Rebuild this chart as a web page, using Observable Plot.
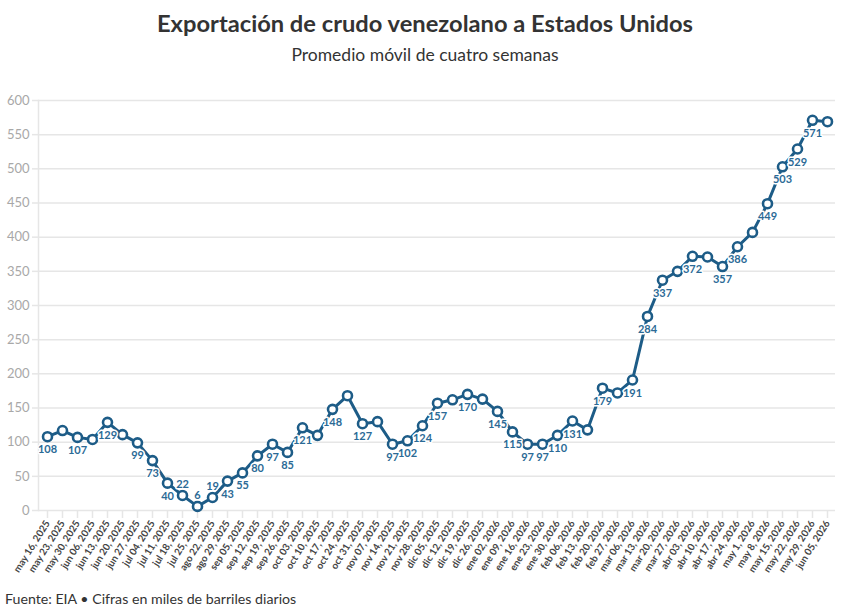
<!DOCTYPE html>
<html>
<head>
<meta charset="utf-8">
<script src="https://cdn.jsdelivr.net/npm/d3@7"></script>
<script src="https://cdn.jsdelivr.net/npm/@observablehq/plot@0.6"></script>
<style>
  body { margin: 0; background: #fff; font-family: Lato, "Noto Sans", sans-serif; }
  #wrap { width: 850px; position: relative; }
  .title { text-align: center; font-weight: 700; font-size: 23.7px; color: #333; margin: 0; padding-top: 8px; line-height: 30px; }
  .subtitle { text-align: center; font-size: 17.5px; color: #333; margin-top: 7px; line-height: 20px; }
  #chart { height: 525px; }
  .caption { font-size: 14.2px; color: #333; padding-left: 5px; line-height: 18px; }
</style>
</head>
<body>
<div id="wrap">
  <div class="title">Exportación de crudo venezolano a Estados Unidos</div>
  <div class="subtitle">Promedio móvil de cuatro semanas</div>
  <div id="chart"></div>
  <div class="caption">Fuente: EIA • Cifras en miles de barriles diarios</div>
</div>
<script>
// Weekly reporting dates (tick labels)
const weeks = [
  "may 16, 2025", "may 23, 2025", "may 30, 2025", "jun 06, 2025", "jun 13, 2025",
  "jun 20, 2025", "jun 27, 2025", "jul 04, 2025", "jul 11, 2025", "jul 18, 2025",
  "jul 25, 2025", "ago 22, 2025", "ago 29, 2025", "sep 05, 2025", "sep 12, 2025",
  "sep 19, 2025", "sep 26, 2025", "oct 03, 2025", "oct 10, 2025", "oct 17, 2025",
  "oct 24, 2025", "oct 31, 2025", "nov 07, 2025", "nov 14, 2025", "nov 21, 2025",
  "nov 28, 2025", "dic 05, 2025", "dic 12, 2025", "dic 19, 2025", "dic 26, 2025",
  "ene 02, 2026", "ene 09, 2026", "ene 16, 2026", "ene 23, 2026", "ene 30, 2026",
  "feb 06, 2026", "feb 13, 2026", "feb 20, 2026", "feb 27, 2026", "mar 06, 2026",
  "mar 13, 2026", "mar 20, 2026", "mar 27, 2026", "abr 03, 2026", "abr 10, 2026",
  "abr 17, 2026", "abr 24, 2026", "may 1, 2026", "may 8, 2026", "may 15, 2026",
  "may 22, 2026", "may 29, 2026", "jun 05, 2026"
];

// Four-week moving average, thousand barrels per day
const barrels = [
  108, 117, 107, 104, 129,
  111, 99, 73, 40, 22,
  6, 19, 43, 55, 80,
  97, 85, 121, 110, 148,
  168, 127, 130, 97, 102,
  124, 157, 162, 170, 163,
  145, 115, 97, 97, 110,
  131, 118, 179, 172, 191,
  284, 337, 350, 372, 371,
  357, 386, 407, 449, 503,
  529, 571, 569
];

// Which weeks carry a value label
const labeled = [
  1, 0, 1, 0, 1,
  0, 1, 1, 1, 1,
  1, 1, 1, 1, 1,
  1, 1, 1, 0, 1,
  0, 1, 0, 1, 1,
  1, 1, 0, 1, 0,
  1, 1, 1, 1, 1,
  1, 0, 1, 0, 1,
  1, 1, 0, 1, 0,
  1, 1, 0, 1, 1,
  1, 1, 0
];

const yTicks = d3.range(0, 601, 50);

const data = weeks.map((w, i) => ({week: w, value: barrels[i], label: labeled[i] === 1}));
const tagged = data.filter(d => d.label);
const low = tagged.filter(d => d.value < 30);
const high = tagged.filter(d => d.value >= 30);

const blue = "#1d5c87";
const labelStyle = {
  x: "week", y: "value", text: d => String(d.value),
  fill: "#2b6a96", fontWeight: 700, fontSize: 11,
  stroke: "white", strokeWidth: 3, paintOrder: "stroke"
};

const chart = Plot.plot({
  width: 850,
  height: 525,
  marginTop: 35,
  marginLeft: 38,
  marginRight: 15,
  marginBottom: 80,
  style: {fontFamily: "Lato, 'Noto Sans', sans-serif", background: "#fff"},
  x: {type: "point", domain: weeks, padding: 0.5, label: null},
  y: {domain: [0, 600], ticks: yTicks, label: null},
  marks: [
    Plot.gridY(yTicks, {stroke: "#e6e6e6", strokeOpacity: 1, strokeWidth: 1.5}),
    Plot.frame({anchor: "left", stroke: "#e6e6e6", strokeWidth: 1.5}),
    Plot.axisY({ticks: yTicks, tickSize: 6, stroke: "#e6e6e6", strokeWidth: 1.5, fill: "#a8a8a8", fontSize: 13, tickPadding: 3}),
    Plot.axisX({tickRotate: -58, tickSize: 8, stroke: "#e6e6e6", strokeWidth: 1.5, fill: "#444", fontSize: 9.8, fontWeight: 700, tickPadding: 3}),
    Plot.lineY(data, {x: "week", y: "value", stroke: blue, strokeWidth: 3}),
    Plot.dot(data, {x: "week", y: "value", r: 4.5, fill: "white", stroke: blue, strokeWidth: 2.6}),
    Plot.text(high, {...labelStyle, dy: 13}),
    Plot.text(low, {...labelStyle, dy: -11})
  ]
});

document.getElementById("chart").append(chart);
</script>
</body>
</html>
